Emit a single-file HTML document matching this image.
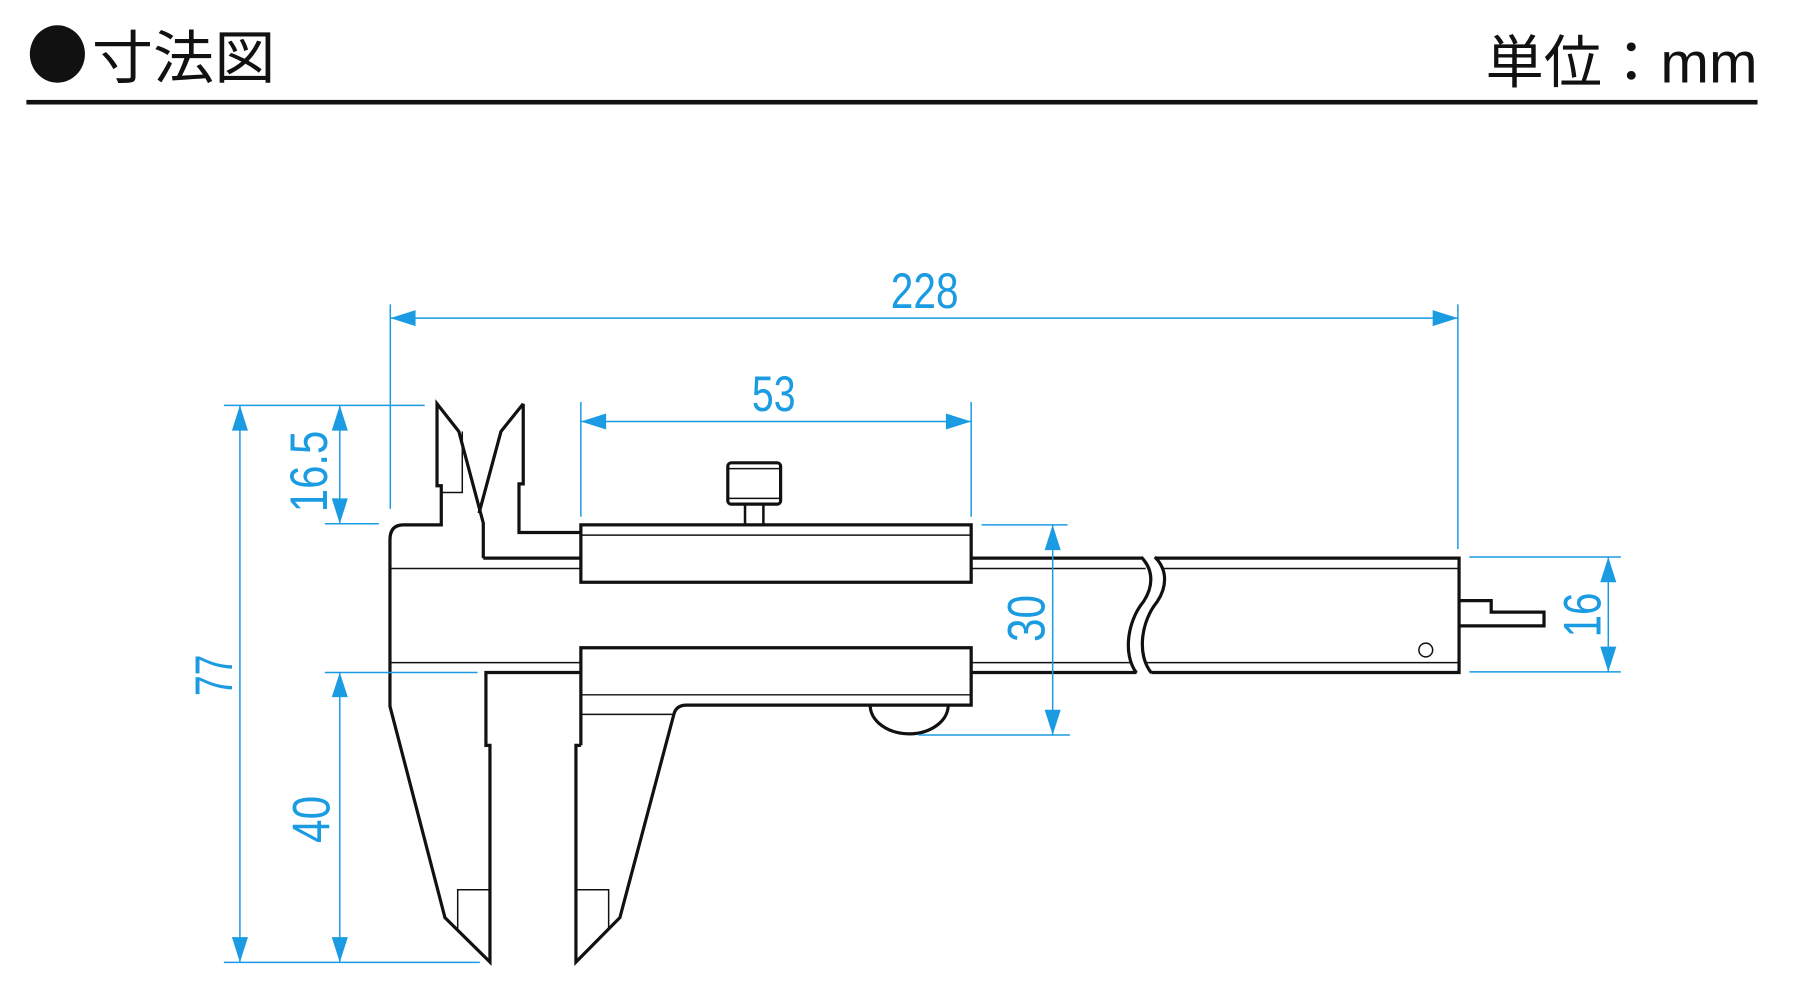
<!DOCTYPE html>
<html><head><meta charset="utf-8"><style>
html,body{margin:0;padding:0;background:#fff;}
svg{display:block;}
</style></head><body>
<svg width="1800" height="998" viewBox="0 0 1568 869" preserveAspectRatio="none" xmlns="http://www.w3.org/2000/svg">
<!-- header -->
<ellipse cx="50" cy="47" rx="24" ry="25" fill="#111"/>
<text x="80" y="68" font-family="'Noto Sans CJK JP',sans-serif" font-weight="400" font-size="50" textLength="160" lengthAdjust="spacingAndGlyphs" fill="#111">寸法図</text>
<text x="1294" y="72" font-family="'Liberation Sans','Noto Sans CJK JP',sans-serif" font-weight="400" font-size="50" textLength="237" lengthAdjust="spacingAndGlyphs" fill="#111">単位：mm</text>
<rect x="23" y="87" width="1508" height="4" fill="#111"/>

<!-- caliper -->
<g fill="none" stroke="#111" stroke-width="2.8" stroke-linejoin="miter">
  <path d="M421,486 L421,455.5 L399.7,375.7 L380.7,351.6 L380.7,423 L384.4,423 L384.4,457 L351.4,457 Q339.7,457 339.7,470 L339.7,615 L387.6,799 L426.8,837.7 L426.8,649 L423.3,649 L423.3,585.6 L506,585.6"/>
  <path d="M421,486 L506,486"/>
  <path d="M455.8,351.6 L436.4,375.7 L417.3,446.8"/>
  <path d="M455.8,351.6 L455.8,421.3 L452.1,421.3 L452.1,463.7 L506,463.7"/>
  <rect x="506" y="457" width="340" height="50"/>
  <path d="M506,649 L506,564 L846,564 L846,614 L598,614 Q589,614 587,622 L540,799 L501.7,837.7 L501.7,649 L506,649"/>
  <path d="M758,614 A34,25 0 0 0 826,614"/>
  <rect x="634" y="403" width="46" height="36" rx="3"/>
  <rect x="649" y="439" width="16" height="18" stroke-width="2.2"/>
  <path d="M846,486 L994,486"/>
  <path d="M846,585.6 L990,585.6"/>
  <path d="M994,485 C1006,497 1004,512 996,524 C982,541 978,570 990,586"/>
  <path d="M1006,485 C1018,497 1016,512 1008,524 C994,541 990,570 1003,586"/>
  <path d="M1006,486 L1271,486 L1271,585.6 L1003,585.6"/>
  <path d="M1271,523 L1299,523 L1299,533 L1345,533 L1345,545 L1271,545"/>
</g>
<g fill="none" stroke="#111" stroke-width="1.3">
  <path d="M384.4,428.8 L402.7,428.8 L402.7,375.7"/>
  <path d="M340,495 L506,495 M340,577 L506,577"/>
  <path d="M506,466 L846,466"/>
  <path d="M506,605 L846,605 M506,622 L587,622"/>
  <path d="M846,495 L998,495 M846,577 L984,577"/>
  <path d="M1012,495 L1271,495 M997,577 L1271,577"/>
  <path d="M634,408 L680,408 M634,434 L680,434"/>
  <path d="M398.7,810 L398.7,774.7 L426.8,774.7"/>
  <path d="M530.2,809 L530.2,774.7 L501.7,774.7"/>
  <circle cx="1242" cy="566" r="6"/>
</g>

<!-- dimensions -->
<g stroke="#1a9be2" stroke-width="1.3" fill="none">
  <path d="M340,265 L340,443 M1270,265 L1270,478 M340,277 L1270,277"/>
  <path d="M506,350 L506,450 M846,350 L846,450 M506,367 L846,367"/>
  <path d="M195,353 L370,353 M195,838 L418,838 M209,353 L209,838"/>
  <path d="M283,456 L330,456 M296,353 L296,456"/>
  <path d="M283,585.6 L416,585.6 M296,585.6 L296,838"/>
  <path d="M855,457 L930,457 M800,640 L932,640 M917,457 L917,640"/>
  <path d="M1280,485 L1412,485 M1280,585 L1412,585 M1401,485 L1401,585"/>
</g>
<g fill="#1a9be2">
  <polygon points="340,277 362,270 362,284"/><polygon points="1270,277 1248,270 1248,284"/>
  <polygon points="506,367 528,360 528,374"/><polygon points="846,367 824,360 824,374"/>
  <polygon points="209,353 202,375 216,375"/><polygon points="209,838 202,816 216,816"/>
  <polygon points="296,353 289,375 303,375"/><polygon points="296,456 289,434 303,434"/>
  <polygon points="296,585.6 289,607 303,607"/><polygon points="296,838 289,816 303,816"/>
  <polygon points="917,457 910,479 924,479"/><polygon points="917,640 910,618 924,618"/>
  <polygon points="1401,485 1394,507 1408,507"/><polygon points="1401,585 1394,563 1408,563"/>
</g>
<g fill="#1a9be2" font-family="'Liberation Sans',sans-serif" font-size="44">
  <text x="776" y="268" textLength="59" lengthAdjust="spacingAndGlyphs">228</text>
  <text x="655" y="358" textLength="38" lengthAdjust="spacingAndGlyphs">53</text>
  <text transform="translate(202,606) rotate(-90)" x="0" y="0" font-size="46" textLength="36" lengthAdjust="spacingAndGlyphs">77</text>
  <text transform="translate(285,446) rotate(-90)" x="0" y="0" font-size="46" textLength="71" lengthAdjust="spacingAndGlyphs">16.5</text>
  <text transform="translate(287,734) rotate(-90)" x="0" y="0" font-size="46" textLength="41" lengthAdjust="spacingAndGlyphs">40</text>
  <text transform="translate(910,559) rotate(-90)" x="0" y="0" font-size="46" textLength="41" lengthAdjust="spacingAndGlyphs">30</text>
  <text transform="translate(1394,555) rotate(-90)" x="0" y="0" font-size="46" textLength="39" lengthAdjust="spacingAndGlyphs">16</text>
</g>
</svg>
</body></html>
